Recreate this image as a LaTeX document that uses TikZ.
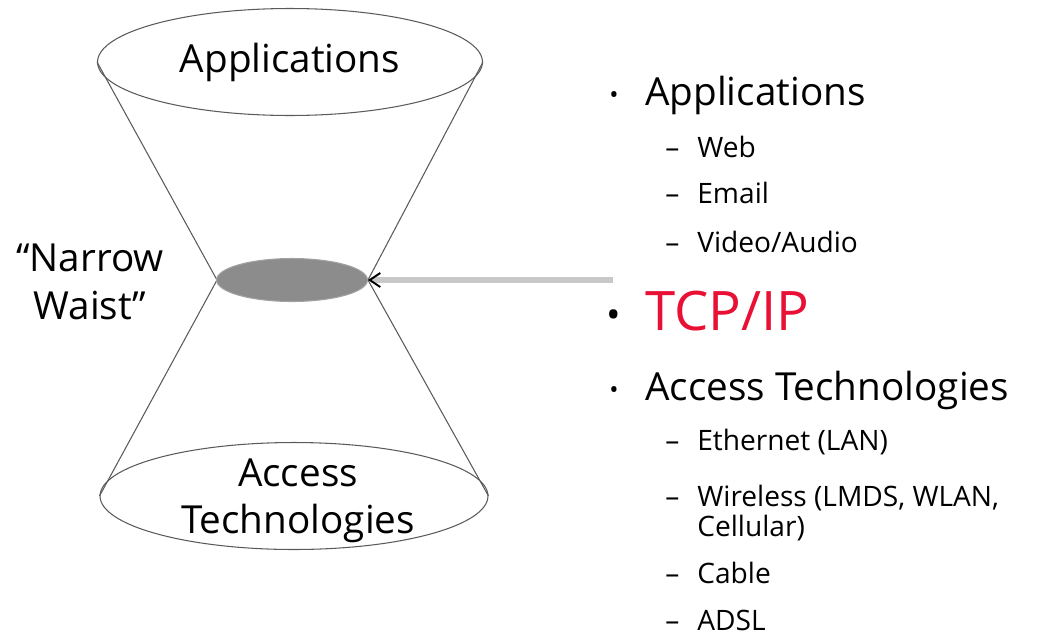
\documentclass[tikz,border=0pt]{standalone}
\usepackage{fontspec}
\setmainfont{Open Sans}
\usepackage{xcolor}
\usepackage{tikz}
\usetikzlibrary{arrows.meta, shapes.geometric}
\definecolor{WaistGray}{RGB}{140, 140, 140}
\definecolor{RimGray}{RGB}{90, 90, 90}
\definecolor{PtrGray}{RGB}{200, 200, 200}
\definecolor{TcpRed}{RGB}{232, 16, 52}

\begin{document}
\begin{tikzpicture}[
    x=0.02cm, y=-0.02cm,
    disc/.style={
      ellipse, draw=RimGray, line width=0.6pt, inner sep=0pt
    },
    cone/.style={line width=0.6pt, color=RimGray},
    lbl/.style={font=\fontsize{22}{27}\selectfont, align=center, inner sep=0pt},
    item/.style={anchor=base west, inner sep=0pt, font=\fontsize{22}{26}\selectfont},
    sub/.style={anchor=base west, inner sep=0pt, font=\fontsize{16}{20}\selectfont},
    dot/.style={anchor=base, inner sep=0pt, font=\fontsize{14}{16}\selectfont},
    ptr/.style={-{Straight Barb[color=black, length=6pt, width=8pt, line width=1.1pt]},
      line width=3pt, draw=PtrGray}
  ]
    \useasboundingbox (0,0) rectangle (1048,636);

    % hourglass
    \node[disc, minimum width=7.7cm, minimum height=2.14cm] (apps) at (290,62) {};
    \node[disc, minimum width=7.76cm, minimum height=2.14cm] (access) at (294,496) {};
    \draw[cone] (apps.west) -- (217,280) -- (access.west);
    \draw[cone] (apps.east) -- (368,280) -- (access.east);
    \node[disc, fill=WaistGray, draw=WaistGray!80, minimum width=3.02cm,
      minimum height=0.86cm] (waist) at (292,280) {};

    \node[lbl] (appsLbl) at (apps) {Applications};
    \node[lbl] (accessLbl) at (298,501) {Access\\Technologies};
    \node[lbl] (narrow) at (90,282) {“Narrow\\Waist”};

    % list on the right
    \node[dot] (b1) at (614,103) {•};
    \node[item] (liApps) at (645,105) {Applications};
    \node[sub] (d1) at (665,157) {–};
    \node[sub] (liWeb) at (697,157) {Web};
    \node[sub] (d2) at (665,203) {–};
    \node[sub] (liMail) at (697,203) {Email};
    \node[sub] (d3) at (665,252) {–};
    \node[sub] (liVid) at (697,252) {Video/Audio};

    \node[dot, font=\fontsize{22}{26}\selectfont] (b2) at (614,328) {•};
    \node[item, font=\fontsize{31}{36}\selectfont, text=TcpRed] (liTcp) at (645,330) {TCP/IP};

    \node[dot] (b3) at (614,398) {•};
    \node[item] (liAcc) at (645,400) {Access Technologies};
    \node[sub] (d4) at (665,450) {–};
    \node[sub] (liEth) at (697,450) {Ethernet (LAN)};
    \node[sub] (d5) at (665,506) {–};
    \node[sub] (liWl) at (697,506) {Wireless (LMDS, WLAN,};
    \node[sub] (liCell) at (697,536) {Cellular)};
    \node[sub] (d6) at (665,583) {–};
    \node[sub] (liCab) at (697,583) {Cable};
    \node[sub] (d7) at (665,630) {–};
    \node[sub] (liAdsl) at (697,630) {ADSL};

    \coordinate (tail) at (613,280);
    \draw[ptr] (tail) -- (waist.east);
\end{tikzpicture}
\end{document}
